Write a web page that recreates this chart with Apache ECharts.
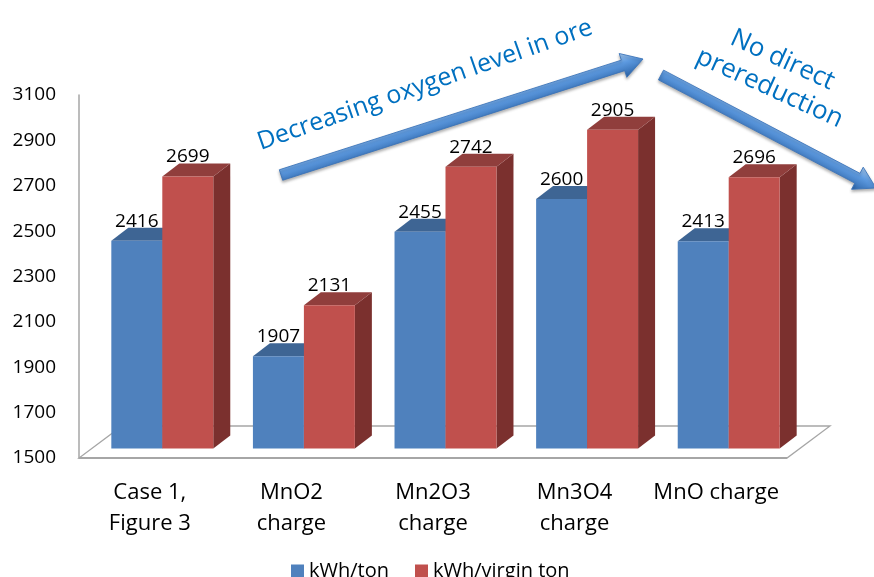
<!DOCTYPE html>
<html>
<head>
<meta charset="utf-8">
<script src="https://cdn.jsdelivr.net/npm/echarts@6/dist/echarts.min.js"></script>
<style>
  html, body { margin: 0; padding: 0; background: #ffffff; }
  #chart { width: 874px; height: 577px; }
</style>
</head>
<body>
<div id="chart"></div>
<script>
// Energy use per charge type
const categories = ['Case 1,\nFigure 3', 'MnO2\ncharge', 'Mn2O3\ncharge', 'Mn3O4\ncharge', 'MnO charge'];
const kwhPerTon = [2416, 1907, 2455, 2600, 2413];
const kwhPerVirginTon = [2699, 2131, 2742, 2905, 2696];
const seriesNames = ['kWh/ton', 'kWh/virgin ton'];
const yMin = 1500, yMax = 3100, yStep = 200;

const FONT = "'Open Sans', sans-serif";
const BLUE = { front: '#4f81bd', top: '#3e6594', side: '#2f5483' };
const RED = { front: '#c0504d', top: '#903e3c', side: '#7b302e' };

// oblique 3D offsets (pixels)
const BAR_DX = 17, BAR_DY = 13;      // depth of each bar
const SET_DX = 12.5, SET_DY = 9.5;   // bars sit behind the floor's front edge
const FLOOR_DX = 43, FLOOR_DY = 32;  // depth of the floor plate

function barRenderer(slot, colors) {
  return function (params, api) {
    const idx = api.value(0);
    const val = api.value(1);
    const band = api.size([1, 0])[0];
    const w = band * 0.36;
    const top = api.coord([idx, val]);
    const base = api.coord([idx, yMin]);
    const x0 = top[0] + SET_DX + (slot === 0 ? -w : 0);
    const x1 = x0 + w;
    const yT = top[1] - SET_DY;
    const yB = base[1] - SET_DY;
    return {
      type: 'group',
      children: [
        {
          type: 'polygon',
          shape: { points: [[x1, yT], [x1 + BAR_DX, yT - BAR_DY], [x1 + BAR_DX, yB - BAR_DY], [x1, yB]] },
          style: { fill: colors.side }
        },
        {
          type: 'polygon',
          shape: { points: [[x0, yT], [x0 + BAR_DX, yT - BAR_DY], [x1 + BAR_DX, yT - BAR_DY], [x1, yT]] },
          style: { fill: colors.top }
        },
        {
          type: 'rect',
          shape: { x: x0, y: yT, width: w, height: yB - yT },
          style: { fill: colors.front }
        },
        {
          type: 'text',
          z2: 10,
          style: {
            text: String(val),
            x: x0 + w / 2,
            y: yT - 19.5,
            align: 'center',
            verticalAlign: 'middle',
            fontSize: 19,
            fontFamily: FONT,
            fill: '#000000'
          }
        }
      ]
    };
  };
}

function floorRenderer(params, api) {
  const band = api.size([1, 0])[0];
  const left = api.coord([0, yMin]);
  const right = api.coord([categories.length - 1, yMin]);
  const xl = left[0] - band / 2, xr = right[0] + band / 2, y = left[1];
  return {
    type: 'group',
    children: [
      {
        type: 'polygon',
        shape: { points: [[xl, y], [xr, y], [xr + FLOOR_DX, y - FLOOR_DY], [xl + FLOOR_DX, y - FLOOR_DY]] },
        style: { fill: '#ffffff', stroke: '#a6a6a6', lineWidth: 1.3 }
      },
      {
        type: 'line',
        shape: { x1: xl, y1: y, x2: xr, y2: y },
        style: { stroke: '#a6a6a6', lineWidth: 2 }
      }
    ]
  };
}

function arrowPoints(len) {
  const head = 21, shaft = 5.5, wing = 12.5;
  return [[0, -shaft], [len - head, -shaft], [len - head, -wing], [len, 0],
          [len - head, wing], [len - head, shaft], [0, shaft]];
}

const arrowStyle = {
  fill: {
    type: 'linear', x: 0, y: 0, x2: 0, y2: 1,
    colorStops: [
      { offset: 0, color: '#a9cdf3' },
      { offset: 0.4, color: '#5d9ae0' },
      { offset: 1, color: '#2a62a6' }
    ]
  },
  stroke: '#3b74b9',
  lineWidth: 0.8,
  shadowBlur: 3,
  shadowOffsetY: 2,
  shadowColor: 'rgba(0,0,0,0.3)'
};

const chart = echarts.init(document.getElementById('chart'), null, { renderer: 'canvas' });

chart.setOption({
  backgroundColor: '#ffffff',
  animation: false,
  grid: { left: 79, top: 95, width: 708, height: 363 },
  legend: {
    data: seriesNames,
    left: 291,
    top: 561,
    padding: 0,
    itemWidth: 13,
    itemHeight: 13,
    itemGap: 26,
    icon: 'rect',
    textStyle: { fontSize: 20, fontFamily: FONT, color: '#000000' }
  },
  xAxis: {
    type: 'category',
    data: categories,
    axisLine: { show: false },
    axisTick: { show: false },
    axisLabel: { interval: 0, fontSize: 22, lineHeight: 31, margin: 19, fontFamily: FONT, color: '#000000' }
  },
  yAxis: {
    type: 'value',
    min: yMin,
    max: yMax,
    interval: yStep,
    axisLine: { show: true, lineStyle: { color: '#a6a6a6', width: 1.5 } },
    axisTick: { show: false },
    splitLine: { show: false },
    axisLabel: {
      fontSize: 19, margin: 23, fontFamily: FONT, color: '#000000',
      formatter: (v) => String(v)
    }
  },
  series: [
    {
      type: 'custom',
      silent: true,
      clip: false,
      z: 1,
      data: [[0, yMin]],
      renderItem: floorRenderer
    },
    {
      name: seriesNames[0],
      type: 'custom',
      clip: false,
      z: 2,
      itemStyle: { color: BLUE.front },
      data: kwhPerTon.map((v, i) => [i, v]),
      renderItem: barRenderer(0, BLUE)
    },
    {
      name: seriesNames[1],
      type: 'custom',
      clip: false,
      z: 3,
      itemStyle: { color: RED.front },
      data: kwhPerVirginTon.map((v, i) => [i, v]),
      renderItem: barRenderer(1, RED)
    }
  ],
  graphic: [
    {
      type: 'polygon',
      x: 281, y: 175,
      rotation: Math.atan2(116, 362),
      shape: { points: arrowPoints(Math.hypot(362, 116)) },
      style: arrowStyle,
      z: 20
    },
    {
      type: 'polygon',
      x: 661, y: 75,
      rotation: -Math.atan2(113, 215),
      shape: { points: arrowPoints(Math.hypot(215, 113)) },
      style: arrowStyle,
      z: 20
    },
    {
      type: 'text',
      x: 425, y: 85,
      rotation: 19.25 * Math.PI / 180,
      style: {
        text: 'Decreasing oxygen level in ore',
        align: 'center',
        verticalAlign: 'middle',
        fontSize: 25,
        fontFamily: FONT,
        fill: '#0070c0'
      },
      z: 21
    },
    {
      type: 'text',
      x: 776, y: 74,
      rotation: -24.5 * Math.PI / 180,
      style: {
        text: 'No direct\nprereduction',
        align: 'center',
        verticalAlign: 'middle',
        lineHeight: 31,
        fontSize: 26,
        fontFamily: FONT,
        fill: '#0070c0'
      },
      z: 21
    }
  ]
});
</script>
</body>
</html>
